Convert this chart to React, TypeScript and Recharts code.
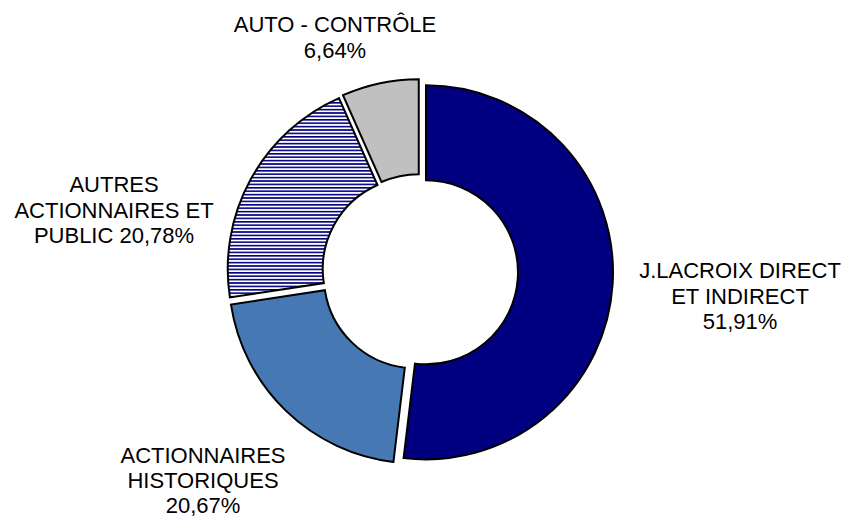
import React from 'react';
import { PieChart, Pie, Sector } from 'recharts';

// shareholding split, read clockwise from 12 o'clock
const categories = [
  'J.LACROIX DIRECT\nET INDIRECT',
  'ACTIONNAIRES\nHISTORIQUES',
  'AUTRES\nACTIONNAIRES ET\nPUBLIC',
  'AUTO - CONTRÔLE',
];
const values = [51.91, 20.67, 20.78, 6.64];
// how the percentage joins the name in each label
const valueSeparators = ['\n', '\n', ' ', '\n'];

const fills = ['#000080', '#4678B4', 'url(#stripes)', '#C0C0C0'];

// label anchor (centre of first baseline) relative to the pie centre
const labelOffsets = [
  { dx: 320, dy: 6 },
  { dx: -217, dy: 191 },
  { dx: -306, dy: -80 },
  { dx: -85, dy: -240 },
];

const WIDTH = 848;
const HEIGHT = 519;
const CX = 420;
const CY = 272;
const EXPLODE = 6;
const LINE_HEIGHT = 25.5;
const RADIAN = Math.PI / 180;

const fmt = (v: number) => v.toFixed(2).replace('.', ',') + '%';

const data = categories.map((name, i) => ({ name, value: values[i], fill: fills[i] }));

const ExplodedSector = (props: any) => {
  const { cx, cy, midAngle } = props;
  const dx = EXPLODE * Math.cos(-midAngle * RADIAN);
  const dy = EXPLODE * Math.sin(-midAngle * RADIAN);
  return <Sector {...props} cx={cx + dx} cy={cy + dy} />;
};

const renderLabel = (props: any) => {
  const i = props.index as number;
  const lines = `${categories[i]}${valueSeparators[i]}${fmt(values[i])}`.split('\n');
  const off = labelOffsets[i];
  // last line of the bottom label sits a touch tighter so it stays on the page
  const lh = i === 1 ? 25 : LINE_HEIGHT;
  return (
    <text
      key={`lbl-${i}`}
      x={CX + off.dx}
      y={CY + off.dy}
      textAnchor="middle"
      fill="#000"
      style={{ fontFamily: '"Liberation Sans", Arial, sans-serif', fontSize: 22 }}
    >
      {lines.map((line, j) => (
        <tspan key={j} x={CX + off.dx} dy={j === 0 ? 0 : lh}>
          {line}
        </tspan>
      ))}
    </text>
  );
};

export default function App() {
  return (
    <div style={{ position: 'absolute', left: 0, top: 0, width: WIDTH, height: HEIGHT, background: '#fff' }}>
      <PieChart width={WIDTH} height={HEIGHT} margin={{ top: 0, right: 0, bottom: 0, left: 0 }}>
        <defs>
          <pattern id="stripes" patternUnits="userSpaceOnUse" width={8} height={3.4}>
            <rect x={0} y={0} width={8} height={3.4} fill="#fff" />
            <rect x={0} y={0} width={8} height={1.6} fill="#000080" />
          </pattern>
        </defs>
        <Pie
          data={data}
          dataKey="value"
          nameKey="name"
          cx={CX}
          cy={CY}
          innerRadius={92}
          outerRadius={187}
          startAngle={90}
          endAngle={-270}
          stroke="#000"
          strokeWidth={2}
          shape={ExplodedSector}
          label={renderLabel}
          labelLine={false}
          isAnimationActive={false}
        />
      </PieChart>
    </div>
  );
}
